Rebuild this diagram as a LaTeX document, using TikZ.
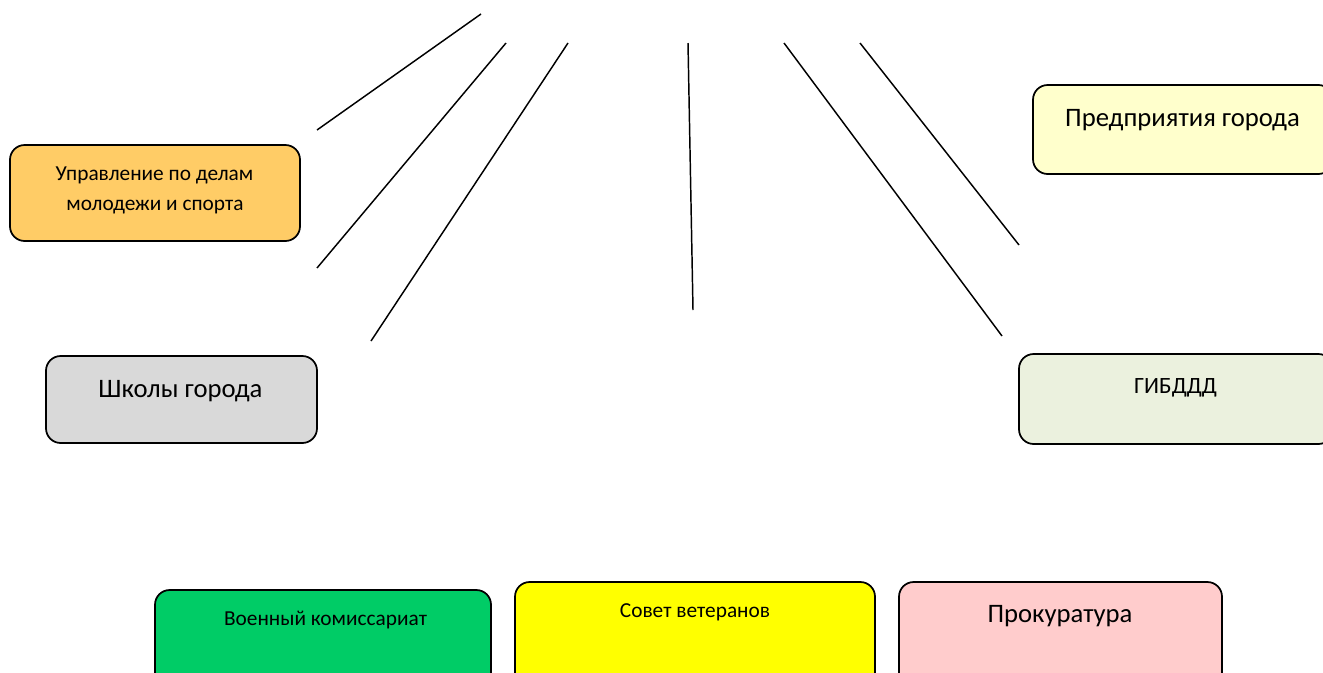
\documentclass[tikz,border=0pt]{standalone}
\usepackage{fontspec}
\setmainfont{Carlito}
\begin{document}
\begin{tikzpicture}[x=0.75pt,y=-0.75pt,
  orgbox/.style={draw=black,line width=1.3pt,rounded corners=11pt,inner sep=0pt},
  orgtext/.style={inner sep=0pt,anchor=base,text=black},
  link/.style={draw=black,line width=1.1pt}]
\useasboundingbox (0,0) rectangle (1323,672);
\clip (0,0) rectangle (1323,672);
\definecolor{cUpr}{HTML}{FFCC66}
\definecolor{cShk}{HTML}{D9D9D9}
\definecolor{cPred}{HTML}{FFFFCC}
\definecolor{cGibdd}{HTML}{EBF1DE}
\definecolor{cVoen}{HTML}{00CC66}
\definecolor{cSov}{HTML}{FFFF00}
\definecolor{cProk}{HTML}{FFCCCC}
% boxes
\node[orgbox,fill=cUpr,minimum width=290*0.75pt,minimum height=96*0.75pt] (upr) at (155,193) {};
\node[orgbox,fill=cShk,minimum width=271*0.75pt,minimum height=87*0.75pt] (shk) at (181.5,399.5) {};
\node[orgbox,fill=cPred,minimum width=300*0.75pt,minimum height=89*0.75pt] (pred) at (1183,129.5) {};
\node[orgbox,fill=cGibdd,minimum width=314*0.75pt,minimum height=90*0.75pt] (gibdd) at (1176,399) {};
\node[orgbox,fill=cVoen,minimum width=336*0.75pt,minimum height=130*0.75pt] (voen) at (323,655) {};
\node[orgbox,fill=cSov,minimum width=360*0.75pt,minimum height=140*0.75pt] (sov) at (695,652) {};
\node[orgbox,fill=cProk,minimum width=323*0.75pt,minimum height=140*0.75pt] (prok) at (1060.5,652) {};
% texts
\node[orgtext,font=\fontsize{16pt}{19pt}\selectfont] (uprA) at (154.5,180) {Управление по делам};
\node[orgtext,font=\fontsize{16pt}{19pt}\selectfont] (uprB) at (155,210) {молодежи и спорта};
\node[orgtext,font=\fontsize{20pt}{24pt}\selectfont] (shkT) at (180.5,397) {Школы города};
\node[orgtext,font=\fontsize{20pt}{24pt}\selectfont] (predT) at (1182.5,126) {Предприятия города};
\node[orgtext,font=\fontsize{17.5pt}{21pt}\selectfont] (gibddT) at (1175.5,393) {ГИБДДД};
\node[orgtext,font=\fontsize{16pt}{19pt}\selectfont] (voenT) at (325.5,625) {Военный комиссариат};
\node[orgtext,font=\fontsize{16pt}{19pt}\selectfont] (sovT) at (695,617) {Совет ветеранов};
\node[orgtext,font=\fontsize{20pt}{24pt}\selectfont] (prokT) at (1060,622) {Прокуратура};
% connectors
\coordinate (a1) at (481,14);  \coordinate (b1) at (317,130);
\coordinate (a2) at (506,43);  \coordinate (b2) at (317,268);
\coordinate (a3) at (568,43);  \coordinate (b3) at (371,341);
\coordinate (a4) at (688,43);  \coordinate (b4) at (693,310);
\coordinate (a5) at (784,43);  \coordinate (b5) at (1002,336);
\coordinate (a6) at (860,43);  \coordinate (b6) at (1019,245);
\draw[link] (a1) -- (b1);
\draw[link] (a2) -- (b2);
\draw[link] (a3) -- (b3);
\draw[link] (a4) -- (b4);
\draw[link] (a5) -- (b5);
\draw[link] (a6) -- (b6);
\end{tikzpicture}
\end{document}
